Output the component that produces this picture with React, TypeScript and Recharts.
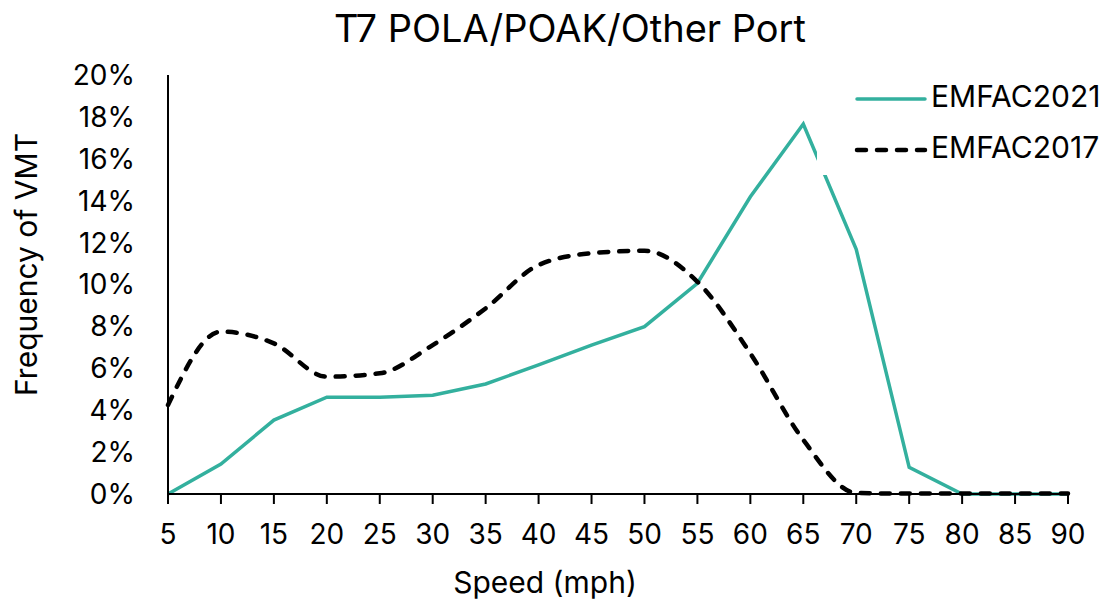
import React from "react";
import { LineChart, Line, XAxis, YAxis, Label } from "recharts";

const speeds = [5, 10, 15, 20, 25, 30, 35, 40, 45, 50, 55, 60, 65, 70, 75, 80, 85, 90];
const emfac2021 = [0, 1.43, 3.53, 4.62, 4.62, 4.71, 5.25, 6.16, 7.11, 7.99, 10.06, 14.19, 17.66, 11.68, 1.27, 0, 0, 0];
const emfac2017 = [4.25, 7.75, 7.19, 5.6, 5.76, 7.11, 8.86, 10.93, 11.49, 11.61, 10.13, 6.71, 2.58, 0.05, 0.02, 0.02, 0.02, 0.02];
const yTicks = [0, 2, 4, 6, 8, 10, 12, 14, 16, 18, 20];

const FONT = "Inter, Lato, sans-serif";
const TEAL = "#33b09e";
const DASH = "9 11";

const data = speeds.map((s, i) => ({ speed: s, e2021: emfac2021[i], e2017: emfac2017[i] }));

// legend sits over the plot with a white box, like the Excel original
const LegendBox = () => (
  <svg width={300} height={100} style={{ display: "block", background: "#fff" }}>
    <line x1={40} x2={108} y1={24} y2={24} stroke={TEAL} strokeWidth={3.5} strokeLinecap="round" />
    <text x={114} y={32} fontSize={30} fontFamily={FONT} fill="#000">EMFAC2021</text>
    <line x1={40} x2={108} y1={75} y2={75} stroke="#000" strokeWidth={4.5} strokeDasharray={DASH} strokeLinecap="round" />
    <text x={114} y={83} fontSize={30} fontFamily={FONT} fill="#000">EMFAC2017</text>
  </svg>
);

export default function App() {
  return (
    <div style={{ position: "absolute", left: 0, top: 0, width: 1117, height: 607, background: "#fff" }}>
      <div
        style={{
          position: "absolute",
          top: 9,
          left: 0,
          width: 1140,
          textAlign: "center",
          fontFamily: FONT,
          fontSize: 38,
          lineHeight: "38px",
          color: "#000",
        }}
      >
        T7 POLA/POAK/Other Port
      </div>
      <LineChart width={1117} height={607} data={data} margin={{ top: 75, right: 49, bottom: 0, left: 0 }}>
        <XAxis
          dataKey="speed"
          type="number"
          domain={[5, 90]}
          ticks={speeds}
          interval={0}
          height={113}
          tickSize={10}
          tickMargin={20}
          axisLine={{ stroke: "#000", strokeWidth: 2 }}
          tickLine={{ stroke: "#000", strokeWidth: 2 }}
          tick={{ fontSize: 28, fill: "#000", fontFamily: FONT }}
        >
          <Label
            content={({ viewBox }: any) => (
              <text
                x={viewBox.x + viewBox.width / 2 - 73}
                y={viewBox.y + 99}
                textAnchor="middle"
                fontSize={30}
                fontFamily={FONT}
                fill="#000"
              >
                Speed (mph)
              </text>
            )}
          />
        </XAxis>
        <YAxis
          type="number"
          domain={[0, 20]}
          ticks={yTicks}
          interval={0}
          width={168}
          tickLine={false}
          tickSize={18}
          tickMargin={15}
          tickFormatter={(v: number) => `${v}%`}
          axisLine={{ stroke: "#000", strokeWidth: 2 }}
          tick={{ fontSize: 28, fill: "#000", fontFamily: FONT }}
        >
          <Label
            content={({ viewBox }: any) => {
              const cx = 26;
              const cy = viewBox.y + viewBox.height / 2 - 20;
              return (
                <text
                  x={cx}
                  y={cy}
                  transform={`rotate(-90 ${cx} ${cy})`}
                  textAnchor="middle"
                  dominantBaseline="central"
                  fontSize={30}
                  fontFamily={FONT}
                  fill="#000"
                >
                  Frequency of VMT
                </text>
              );
            }}
          />
        </YAxis>
        <Line
          dataKey="e2021"
          name="EMFAC2021"
          type="linear"
          stroke={TEAL}
          strokeWidth={3.5}
          dot={false}
          activeDot={false}
          isAnimationActive={false}
        />
        <Line
          dataKey="e2017"
          name="EMFAC2017"
          type="monotone"
          stroke="#000"
          strokeWidth={4.5}
          strokeDasharray={DASH}
          strokeLinecap="round"
          dot={false}
          activeDot={false}
          isAnimationActive={false}
        />
      </LineChart>
      <div style={{ position: "absolute", left: 817, top: 75 }}>
        <LegendBox />
      </div>
    </div>
  );
}
